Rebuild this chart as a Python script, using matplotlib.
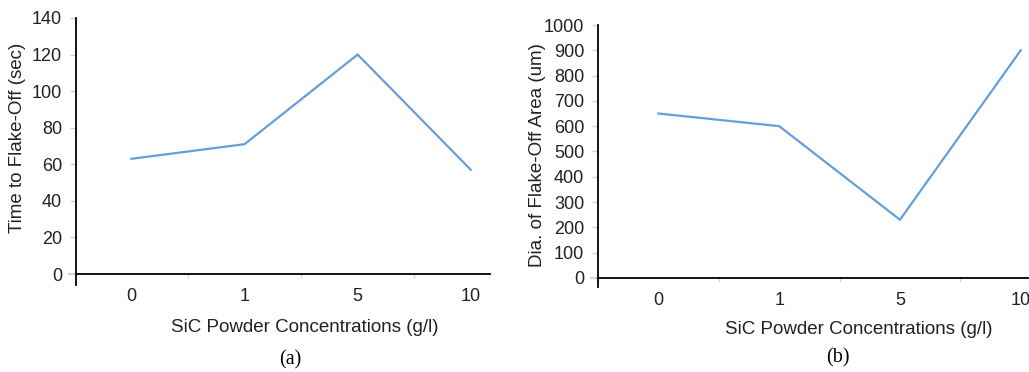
import matplotlib.pyplot as plt

# Данные
categories = ['0', '1', '5', '10']
time_to_flake = [63, 71, 120, 57]
dia_flake_area = [650, 600, 230, 900]
time_ticks = [0, 20, 40, 60, 80, 100, 120, 140]
dia_ticks = [0, 100, 200, 300, 400, 500, 600, 700, 800, 900, 1000]

LINE_COLOR = '#649FDB'
TEXT_COLOR = '#222222'
W, H = 1029, 372


def px_box(x0, x1, ytop, ybot):
    # перевод пикселей в доли фигуры
    return [x0 / W, (H - ybot) / H, (x1 - x0) / W, (ybot - ytop) / H]


def style_axes(ax, values, ticks, ylim, xlim, ypad):
    xs = range(len(values))
    ax.plot(xs, values, color=LINE_COLOR, lw=1.6, solid_joinstyle='miter')
    ax.set_xlim(*xlim)
    ax.set_ylim(*ylim)
    ax.set_yticks(ticks)
    ax.set_xticks(list(xs))
    ax.set_xticklabels(categories)
    ax.set_xticks([i + 0.5 for i in range(len(values) - 1)], minor=True)
    for s in ['top', 'right']:
        ax.spines[s].set_visible(False)
    ax.spines['bottom'].set_position(('data', 0))
    ax.spines['left'].set_linewidth(1.3)
    ax.spines['bottom'].set_linewidth(1.3)
    ax.tick_params(axis='y', length=4, width=1, color='#d0d0d0', labelsize=13, pad=ypad)
    ax.tick_params(axis='x', which='major', length=0, labelsize=13, pad=10)
    ax.tick_params(axis='x', which='minor', length=3, width=1, color='#d8d8d8')
    # нулевой тик продолжает ось x влево
    zero = ax.yaxis.get_major_ticks()[0].tick1line
    zero.set_color('black')
    zero.set_markersize(6)
    zero.set_markeredgewidth(1.3)
    for t in ax.get_xticklabels() + ax.get_yticklabels():
        t.set_color(TEXT_COLOR)


plt.rcParams['font.family'] = ['Liberation Sans', 'DejaVu Sans']
fig = plt.figure(figsize=(W / 100, H / 100), dpi=100)

ax1 = fig.add_axes(px_box(76, 490, 18, 285))
style_axes(ax1, time_to_flake, time_ticks, (-6, 140), (-0.49, 3.17), 6)

ax2 = fig.add_axes(px_box(598, 1028, 25, 287))
style_axes(ax2, dia_flake_area, dia_ticks, (-36, 1000), (-0.5, 3.06), 6)
for t in ax2.get_xticklabels():
    t.set_clip_on(False)

# подписи осей
fig.text(18 / W, 1 - 138 / H, 'Time to Flake-Off (sec)', rotation=90,
         ha='center', va='center', fontsize=13.5, color=TEXT_COLOR)
fig.text(305 / W, 1 - 327 / H, 'SiC Powder Concentrations (g/l)',
         ha='center', va='center', fontsize=13.5, color=TEXT_COLOR)
fig.text(538 / W, 1 - 155 / H, 'Dia. of Flake-Off Area (um)', rotation=90,
         ha='center', va='center', fontsize=13.5, color=TEXT_COLOR)
fig.text(859 / W, 1 - 330 / H, 'SiC Powder Concentrations (g/l)',
         ha='center', va='center', fontsize=13.5, color=TEXT_COLOR)

fig.text(290 / W, 1 - 360 / H, '(a)', family='Liberation Serif',
         ha='center', va='center', fontsize=14.5)
fig.text(838 / W, 1 - 358 / H, '(b)', family='Liberation Serif',
         ha='center', va='center', fontsize=14.5)

fig.savefig('out.png', dpi=100)
